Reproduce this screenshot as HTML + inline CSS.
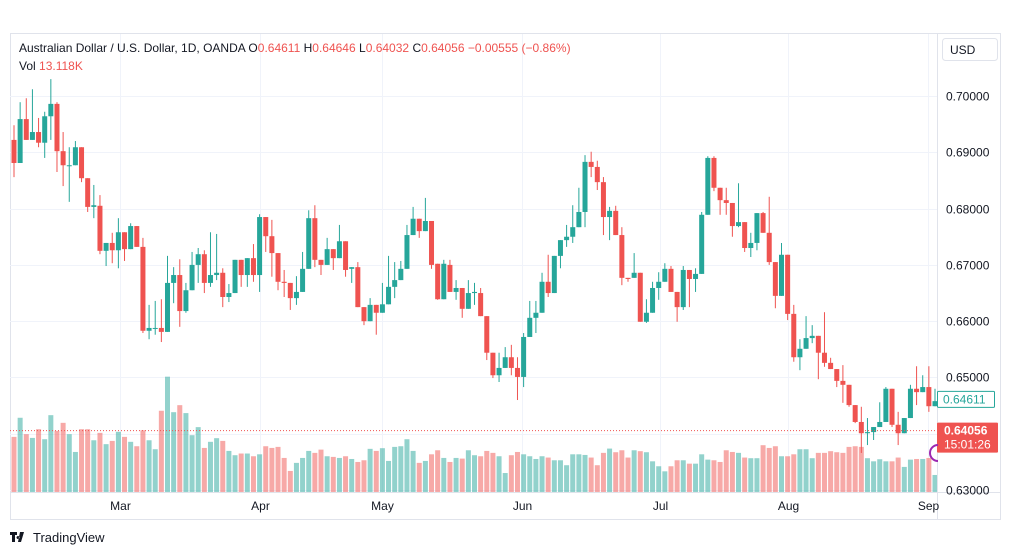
<!DOCTYPE html>
<html><head><meta charset="utf-8"><style>
html,body{margin:0;padding:0;background:#fff;width:1012px;height:555px;overflow:hidden}
svg{display:block;font-family:"Liberation Sans",sans-serif}
</style></head><body>
<svg id="chart" width="1012" height="555" viewBox="0 0 1012 555">
<rect x="10.5" y="33.5" width="990" height="486" fill="#fff" stroke="#e0e3eb"/>
<g id="grid"></g>
<g id="vol"></g>
<g id="candles"></g>
<line x1="10" y1="431" x2="937" y2="431" stroke="#ef5350" stroke-dasharray="1,2" id="lastline"/>
<line x1="937.5" y1="33" x2="937.5" y2="520" stroke="#e0e3eb"/>
<line x1="10" y1="492.5" x2="1000" y2="492.5" stroke="#e0e3eb"/>
<g id="yaxis"></g>
<g id="xaxis"></g>
<g><rect x="942.5" y="38.5" width="55" height="22" rx="3" fill="#fff" stroke="#e0e3eb"/><text x="950" y="54" font-size="12" fill="#131722">USD</text></g>
<g id="labels"></g>
<text x="19" y="52" font-size="12" fill="#131722">Australian Dollar / U.S. Dollar, 1D, OANDA <tspan fill="#131722">O</tspan><tspan fill="#ef5350">0.64611</tspan> <tspan fill="#131722">H</tspan><tspan fill="#ef5350">0.64646</tspan> <tspan fill="#131722">L</tspan><tspan fill="#ef5350">0.64032</tspan> <tspan fill="#131722">C</tspan><tspan fill="#ef5350">0.64056 −0.00555 (−0.86%)</tspan></text>
<text x="19" y="70" font-size="12" fill="#131722">Vol <tspan fill="#ef5350">13.118K</tspan></text>
<g><path d="M10 532h7v3h-2v7h-3v-7h-2z M18 536a1.5 1.5 0 1 0 0.01 0z M20 532h4l-3 10h-3z" fill="#131722"/><text x="33" y="542" font-size="13" fill="#131722">TradingView</text></g>
</svg>
<script>
const opens=[.6922,.6881,.6959,.6922,.6936,.6917,.6964,.6986,.6902,.6877,.6877,.6909,.6854,.6803,.6805,.6725,.6739,.6726,.6758,.6728,.6769,.6732,.6583,.6588,.6588,.6581,.6668,.6682,.6618,.6655,.6700,.6719,.6668,.6682,.6686,.6643,.6650,.6709,.6682,.6712,.6682,.6785,.6751,.6721,.6670,.6668,.6641,.6652,.6693,.6783,.6709,.6700,.6728,.6712,.6742,.6693,.6696,.6625,.6600,.6629,.6615,.6630,.6661,.6673,.6693,.6753,.6782,.6760,.6778,.6702,.6639,.6700,.6652,.6659,.6622,.6650,.6650,.6609,.6544,.6504,.6517,.6536,.6517,.6501,.6572,.6606,.6615,.6670,.6650,.6716,.6744,.6750,.6767,.6794,.6883,.6874,.6847,.6785,.6796,.6753,.6677,.6677,.6686,.6599,.6615,.6659,.6670,.6693,.6652,.6625,.6691,.6675,.6684,.6789,.6890,.6837,.6815,.6810,.6769,.6776,.6730,.6739,.6792,.6757,.6705,.6645,.6718,.6613,.6536,.6551,.6570,.6574,.6544,.6526,.6515,.6494,.6487,.6451,.6421,.6401,.6403,.6412,.6421,.6480,.6416,.6401,.6428,.6480,.6474,.6483,.6449];
const highs=[.6948,.6989,.6996,.7012,.6961,.6972,.7030,.6989,.6936,.6909,.6920,.6909,.6854,.6842,.6824,.6739,.6757,.6783,.6758,.6774,.6769,.6748,.6629,.6636,.6639,.6716,.6696,.6710,.6668,.6723,.6730,.6726,.6758,.6755,.6694,.6666,.6709,.6709,.6712,.6737,.6790,.6785,.6780,.6721,.6691,.6668,.6680,.6723,.6797,.6806,.6709,.6748,.6728,.6771,.6742,.6696,.6705,.6625,.6641,.6629,.6668,.6716,.6705,.6707,.6771,.6803,.6782,.6819,.6778,.6702,.6709,.6709,.6673,.6659,.6673,.6668,.6659,.6609,.6544,.6544,.6554,.6558,.6536,.6579,.6636,.6636,.6686,.6718,.6716,.6744,.6771,.6806,.6837,.6895,.6901,.6885,.6856,.6803,.6805,.6767,.6677,.6721,.6686,.6639,.6670,.6687,.6703,.6698,.6652,.6698,.6691,.6694,.6794,.6893,.6893,.6837,.6837,.6810,.6845,.6776,.6757,.6792,.6794,.6821,.6705,.6739,.6718,.6629,.6568,.6609,.6593,.6574,.6616,.6535,.6515,.6522,.6487,.6451,.6448,.6428,.6412,.6456,.6483,.6480,.6439,.6428,.6487,.6520,.6504,.6520,.6480];
const lows=[.6856,.6881,.6922,.6922,.6909,.6890,.6922,.6865,.6840,.6812,.6877,.6847,.6794,.6783,.6719,.6698,.6703,.6694,.6707,.6728,.6732,.6579,.6568,.6576,.6563,.6581,.6632,.6590,.6615,.6655,.6668,.6650,.6661,.6673,.6625,.6634,.6650,.6661,.6661,.6670,.6652,.6723,.6679,.6655,.6643,.6620,.6629,.6652,.6693,.6696,.6682,.6700,.6691,.6712,.6679,.6668,.6625,.6593,.6600,.6576,.6615,.6630,.6641,.6673,.6693,.6753,.6748,.6760,.6693,.6638,.6639,.6652,.6638,.6606,.6622,.6629,.6609,.6531,.6499,.6492,.6517,.6504,.6460,.6483,.6572,.6579,.6615,.6643,.6650,.6694,.6732,.6739,.6767,.6767,.6856,.6833,.6753,.6744,.6753,.6664,.6670,.6677,.6599,.6597,.6615,.6638,.6670,.6652,.6599,.6620,.6625,.6652,.6684,.6789,.6831,.6789,.6789,.6750,.6767,.6723,.6714,.6726,.6757,.6700,.6623,.6645,.6602,.6528,.6513,.6551,.6561,.6497,.6519,.6515,.6483,.6455,.6448,.6419,.6366,.6380,.6389,.6412,.6421,.6412,.6380,.6401,.6428,.6451,.6474,.6439,.6449];
const closes=[.6881,.6959,.6922,.6936,.6917,.6964,.6986,.6902,.6877,.6877,.6909,.6854,.6803,.6806,.6725,.6739,.6726,.6758,.6728,.6769,.6732,.6583,.6588,.6588,.6581,.6668,.6682,.6618,.6655,.6700,.6719,.6668,.6682,.6686,.6643,.6650,.6709,.6682,.6712,.6682,.6785,.6751,.6721,.6670,.6668,.6641,.6652,.6693,.6783,.6709,.6700,.6728,.6712,.6742,.6691,.6696,.6625,.6600,.6629,.6615,.6630,.6661,.6673,.6693,.6753,.6782,.6760,.6778,.6700,.6639,.6702,.6652,.6659,.6622,.6650,.6652,.6609,.6544,.6504,.6517,.6536,.6517,.6501,.6572,.6606,.6615,.6670,.6650,.6716,.6744,.6750,.6767,.6794,.6883,.6874,.6847,.6785,.6796,.6753,.6677,.6675,.6686,.6599,.6615,.6659,.6670,.6693,.6652,.6625,.6691,.6675,.6684,.6789,.6890,.6837,.6815,.6810,.6769,.6776,.6730,.6739,.6792,.6757,.6705,.6645,.6718,.6613,.6536,.6551,.6570,.6574,.6544,.6526,.6515,.6494,.6487,.6451,.6421,.6401,.6403,.6412,.6421,.6480,.6416,.6401,.6428,.6480,.6474,.6483,.6449,.6458];
const volumes=[42.4,57.1,44.5,41.6,48.3,40.6,59.1,47.0,53.2,44.5,30.8,48.3,48.3,39.8,45.5,36.8,39.3,46.3,42.4,38.6,35.2,47.5,39.8,32.9,62.5,88.7,61.4,66.8,60.7,43.7,49.9,33.9,38.6,41.4,39.3,31.6,28.3,29.6,29.6,27.5,29.0,35.2,33.9,34.7,26.2,16.2,22.4,26.2,31.6,30.1,32.6,27.5,27.0,26.2,27.5,25.4,23.1,24.4,33.2,31.6,33.7,23.9,34.7,35.2,40.6,31.6,22.4,23.9,29.0,32.1,26.2,23.1,26.2,25.7,32.1,28.3,27.5,31.6,30.1,27.5,14.6,28.3,30.8,29.0,27.5,25.4,27.5,26.5,24.4,24.4,20.6,29.0,29.0,28.5,26.5,20.6,30.1,33.4,30.6,32.1,26.5,32.1,31.4,30.6,23.6,19.8,15.9,19.8,24.4,24.4,21.8,21.8,29.0,24.9,24.4,23.1,32.1,30.8,30.1,26.5,26.0,26.0,36.0,33.9,35.2,27.5,27.5,29.0,32.9,32.9,26.0,30.1,30.1,31.4,30.6,30.1,34.7,35.2,34.7,26.0,23.6,25.2,23.6,23.6,26.5,19.3,24.9,25.4,25.4,26.2,13.1];
const priceTicks=[0.70,0.69,0.68,0.67,0.66,0.65,0.64,0.63];
const priceTickLabels=["0.70000","0.69000","0.68000","0.67000","0.66000","0.65000","","0.63000"];
const monthLabels=["Mar","Apr","May","Jun","Jul","Aug","Sep"];
const monthBarIndex=[17.3,40.1,60,82.7,105.2,126,148.8];
const lastPrice=0.64056, currentMarker=0.64611;

const NS="http://www.w3.org/2000/svg";
const X=i=>14+i*6.14;
const Y=p=>96+(0.70-p)*5630;
const VY=v=>492-v*1.3;
function mk(tag,attrs,parent){const e=document.createElementNS(NS,tag);for(const k in attrs)e.setAttribute(k,attrs[k]);parent.appendChild(e);return e;}
const grid=document.getElementById('grid'),vol=document.getElementById('vol'),cg=document.getElementById('candles'),ya=document.getElementById('yaxis'),xa=document.getElementById('xaxis'),lb=document.getElementById('labels');
priceTicks.forEach((p,k)=>{
  const y=Math.round(Y(p))+0.5;
  const g=mk('line',{x1:10,x2:937,y1:y,y2:y,stroke:'#f0f3fa'},grid);
  
  
  if(priceTickLabels[k]){const t=mk('text',{x:946,y:y+4,'font-size':12,fill:'#131722'},ya);t.textContent=priceTickLabels[k];
  
  }
});
monthLabels.forEach((m,k)=>{
  const x=Math.round(X(monthBarIndex[k]))+0.5;
  const g=mk('line',{x1:x,x2:x,y1:34,y2:492,stroke:'#f0f3fa'},grid);
  
  
  const t=mk('text',{x:x,y:510,'font-size':12,fill:'#131722','text-anchor':'middle'},xa);t.textContent=m;
  
  
});
for(let i=0;i<closes.length;i++){
  const up=closes[i]>=opens[i];const x=X(i);
  const vb=mk('rect',{x:x-2.5,y:VY(volumes[i]),width:5,height:492-VY(volumes[i]),fill:up?'rgba(38,166,154,0.5)':'rgba(239,83,80,0.5)'},vol);
  
  
  const col=up?'#26a69a':'#ef5350';
  const w=mk('line',{x1:x,x2:x,y1:Y(highs[i]),y2:Y(lows[i]),stroke:col,'stroke-width':1},cg);
  
  
  const top=Y(Math.max(opens[i],closes[i])),bot=Y(Math.min(opens[i],closes[i]));
  const b=mk('rect',{x:x-2.5,y:top,width:5,height:Math.max(1,bot-top),fill:col},cg);
  
  
}
document.getElementById('lastline').setAttribute('y1',Y(lastPrice));
document.getElementById('lastline').setAttribute('y2',Y(lastPrice));
const cy=Y(currentMarker);
const cb=mk('rect',{x:937.5,y:cy-8,width:57,height:16,fill:'#fff',stroke:'#26a69a',rx:1},lb);


const ct=mk('text',{x:943,y:cy+4,'font-size':12,fill:'#26a69a'},lb);ct.textContent=currentMarker.toFixed(5);
const ly=Y(lastPrice);
const rb=mk('rect',{x:937,y:ly-8,width:61,height:30,fill:'#ef5350',rx:1},lb);


const rt=mk('text',{x:944,y:ly+4,'font-size':12,fill:'#fff','font-weight':'bold'},lb);rt.textContent=lastPrice.toFixed(5);
const rt2=mk('text',{x:944,y:ly+18,'font-size':12,fill:'#fff'},lb);rt2.textContent="15:01:26";
const pc=mk('path',{d:'M938 445 a8 8 0 0 0 0 16',fill:'none',stroke:'#9c27b0','stroke-width':2},lb);


</script>
</body></html>
